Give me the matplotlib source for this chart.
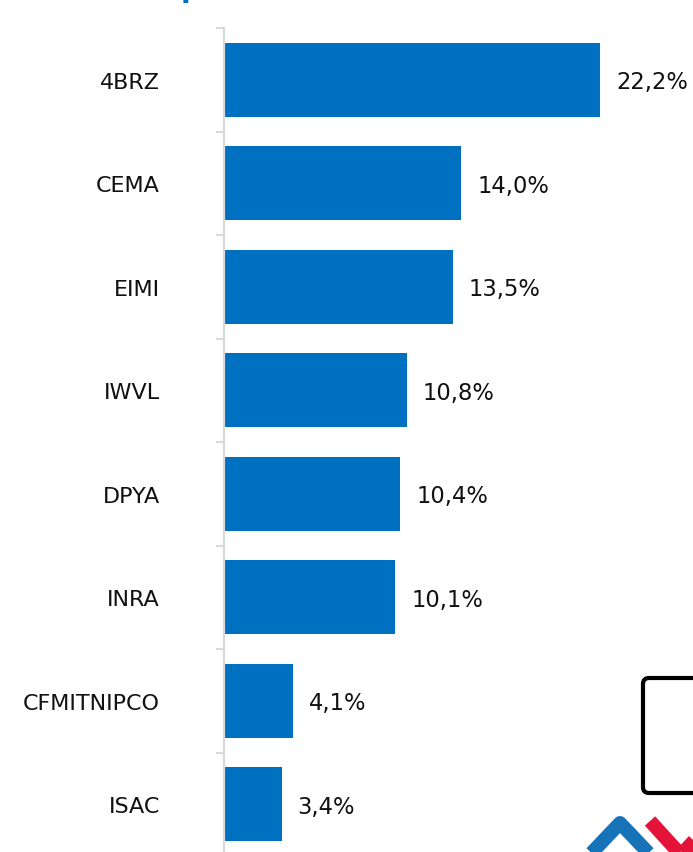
import matplotlib
matplotlib.use("Agg")
import matplotlib.pyplot as plt
from matplotlib.patches import FancyBboxPatch
from matplotlib.lines import Line2D
from matplotlib.transforms import IdentityTransform
import numpy as np

categories = ["4BRZ", "CEMA", "EIMI", "IWVL", "DPYA", "INRA", "CFMITNIPCO", "ISAC"]
values = [22.2, 14.0, 13.5, 10.8, 10.4, 10.1, 4.1, 3.4]
value_labels = ["22,2%", "14,0%", "13,5%", "10,8%", "10,4%", "10,1%", "4,1%", "3,4%"]

BLUE = "#0070C0"
GRID = "#D9D9D9"
W, H = 693, 853

plt.rcParams['font.family'] = ['DejaVu Sans']
fig = plt.figure(figsize=(W / 100, H / 100), dpi=100)

ax_left = 224 / W
ax_top = 1 - 29 / H
ax_h = 8 * 103.5 / H
ax = fig.add_axes([ax_left, ax_top - ax_h, 1 - ax_left, ax_h])

n = len(categories)
y = np.arange(n)
ax.barh(y, values, height=0.715, color=BLUE)
ax.set_xlim(0, (W - 224) / 16.94)
ax.set_ylim(n - 0.5, -0.5)

for yi, v, lab in zip(y, values, value_labels):
    ax.annotate(lab, (v, yi), xytext=(11.5, -1.5), textcoords="offset points",
                va="center", ha="left", fontsize=16.3, color="#111111")

ax.set_yticks(y)
ax.set_yticklabels(categories, fontsize=16, color="#111111")
ax.tick_params(axis="y", which="major", length=0, pad=46)
ax.set_yticks(np.arange(-0.5, n, 1.0), minor=True)
ax.tick_params(axis="y", which="minor", length=6, width=1.5, color=GRID)
ax.set_xticks([])

for s in ["top", "right", "bottom"]:
    ax.spines[s].set_visible(False)
ax.spines["left"].set_color(GRID)
ax.spines["left"].set_linewidth(1.6)

# cut-off title descender at the top
fig.text(181 / W, 1 + 3 / H, "p", color=BLUE, fontsize=20, fontweight="bold",
         va="baseline", ha="left")

# black rounded frame at bottom right
frame = FancyBboxPatch((643, H - 794), 90, 115, boxstyle="round,pad=0,rounding_size=6",
                       transform=IdentityTransform(), fill=False, edgecolor="black",
                       linewidth=3)
fig.add_artist(frame)

# logo chevrons
def px(xs, ys):
    return [xx for xx in xs], [H - yy for yy in ys]

bx, by = px([582, 620, 658], [864, 824, 864])
fig.add_artist(Line2D(bx, by, transform=IdentityTransform(), color="#1673B8",
                      linewidth=10, solid_joinstyle="round", solid_capstyle="butt"))
rx, ry = px([650, 681, 712], [822, 856, 822])
fig.add_artist(Line2D(rx, ry, transform=IdentityTransform(), color="#E4133A",
                      linewidth=10, solid_joinstyle="round", solid_capstyle="butt"))

fig.savefig("out.png", dpi=100)
